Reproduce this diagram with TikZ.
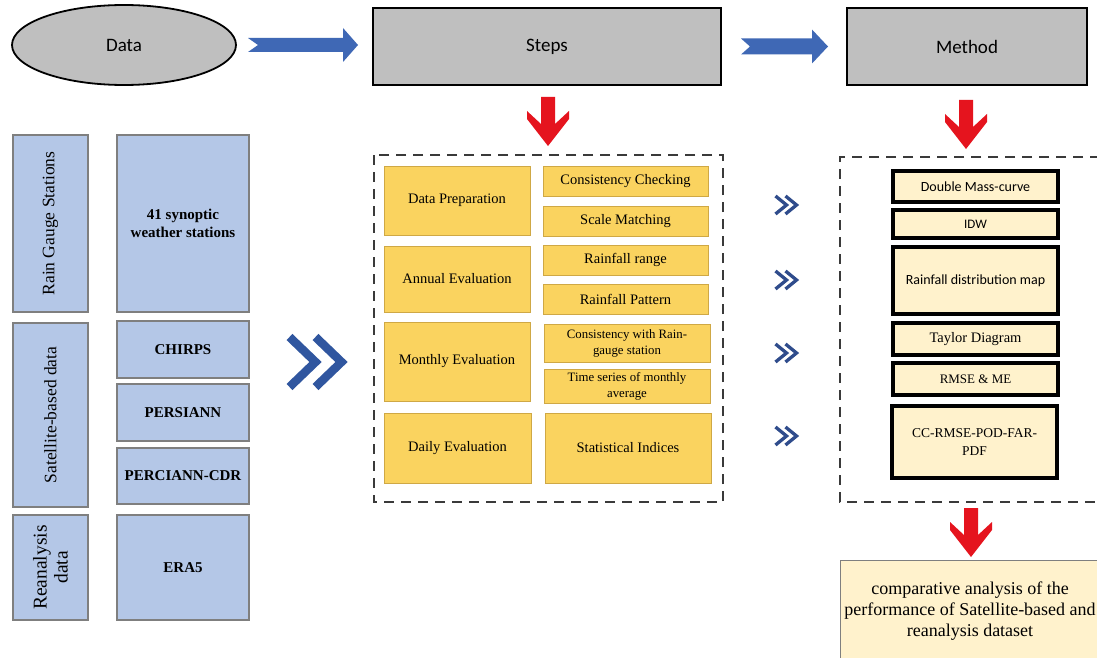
\documentclass[tikz,border=0pt]{standalone}
\usepackage{fontspec}
\setmainfont{Liberation Serif}
\newfontfamily\calfont{Carlito}
\usetikzlibrary{shapes.geometric,calc}
\definecolor{hgray}{HTML}{BFBFBF}
\definecolor{arrblue}{HTML}{3F68B5}
\definecolor{arrred}{HTML}{E5141E}
\definecolor{lblue}{HTML}{B4C7E7}
\definecolor{lbord}{HTML}{7F7F7F}
\definecolor{ygold}{HTML}{FAD35F}
\definecolor{ybord}{HTML}{CFA845}
\definecolor{cream}{HTML}{FFF2CC}
\definecolor{chevA}{HTML}{30569F}
\definecolor{chevB}{HTML}{2F4C8C}
\definecolor{dashc}{HTML}{3A3A3A}
\tikzset{
  hdr/.style={draw=black, line width=1.8pt, fill=hgray, inner sep=0pt, outer sep=0pt,
    font=\calfont\fontsize{19}{22}\selectfont},
  bluebox/.style={draw=lbord, line width=1.2pt, fill=lblue, inner sep=0pt, outer sep=0pt, align=center},
  bluelbl/.style={bluebox, rotate=90, font=\fontsize{17.5}{21}\selectfont},
  bluedat/.style={bluebox, font=\bfseries\fontsize{15}{17.5}\selectfont},
  ybox/.style={draw=ybord, line width=0.8pt, fill=ygold, inner sep=0pt, outer sep=0pt, align=center,
    font=\fontsize{14.5}{16}\selectfont},
  mbox/.style={draw=black, line width=3.3pt, fill=cream, inner sep=0pt, outer sep=0pt, align=center,
    font=\fontsize{14.5}{18}\selectfont},
  dashbox/.style={draw=dashc, line width=2pt, dash pattern=on 10pt off 7pt},
  redarr/.pic={\fill[arrred] (-7,0) -- (7,0) -- (7,27) -- (21,14) -- (21,22) -- (0,49) -- (-21,22) -- (-21,14) -- (-7,27) -- cycle;},
  bigchev/.pic={\draw[chevA, line width=8.5pt, line join=miter] (-13,-25) -- (13,0) -- (-13,25);},
  smallchev/.pic={\draw[chevB, line width=3.3pt, line join=miter] (-5.5,-9) -- (5.5,0) -- (-5.5,9);}
}
\begin{document}
\begin{tikzpicture}[x=1pt, y=-1pt]
\useasboundingbox (0,0) rectangle (1097,658);
\fill[white] (0,0) rectangle (1097,658);

% header row
\node[ellipse, draw=black, line width=1.8pt, fill=hgray, minimum width=224pt, minimum height=80pt,
  inner sep=0pt, outer sep=0pt, font=\calfont\fontsize{19}{22}\selectfont] (data) at (124,45) {Data};
\node[hdr, minimum width=348pt, minimum height=77pt] (steps) at (547,46.5) {Steps};
\node[hdr, minimum width=240pt, minimum height=77pt] (method) at (967,46.5) {Method};

% blue arrows
\fill[arrblue] let \p1=($(data.east)+(12,0)$), \p2=($(steps.west)+(-15,0)$) in
  (\x1,\y1+7pt) -- (\x2-15pt,\y1+7pt) -- (\x2-15pt,\y1+17pt) -- (\x2,\y1) -- (\x2-15pt,\y1-17pt)
  -- (\x2-15pt,\y1-7pt) -- (\x1,\y1-7pt) -- (\x1+10pt,\y1) -- cycle;
\fill[arrblue] let \p1=($(steps.east)+(20,0)$), \p2=($(method.west)+(-19,0)$) in
  (\x1,\y1+8pt) -- (\x2-16pt,\y1+8pt) -- (\x2-16pt,\y1+17pt) -- (\x2,\y1) -- (\x2-16pt,\y1-17pt)
  -- (\x2-16pt,\y1-8pt) -- (\x1,\y1-8pt) -- (\x1+9pt,\y1) -- cycle;

% red arrows
\pic at ($(steps.south)+(1,12)$) {redarr};
\pic at ($(method.south)+(-1,15)$) {redarr};

% left column
\node[bluelbl, minimum width=177pt, minimum height=75pt] (rgs) at (50.5,223.5) {Rain Gauge Stations};
\node[bluedat, minimum width=132pt, minimum height=177pt] (syn) at (183,223.5) {41 synoptic\\weather stations};
\node[bluelbl, minimum width=184pt, minimum height=75pt] (sat) at (50.5,415) {Satellite-based data};
\node[bluedat, minimum width=132pt, minimum height=57pt] (chirps) at (183,349.5) {CHIRPS};
\node[bluedat, minimum width=132pt, minimum height=57pt] (persiann) at (183,412.5) {PERSIANN};
\node[bluedat, minimum width=132pt, minimum height=56pt] (pcdr) at (183,476) {PERCIANN-CDR};
\node[bluelbl, minimum width=105pt, minimum height=75pt, font=\fontsize{19.5}{21}\selectfont] (rea) at (50.5,567.5) {Reanalysis\\data};
\node[bluedat, minimum width=132pt, minimum height=105pt] (era) at (183,567.5) {ERA5};

% big chevrons
\pic at (302.5,362) {bigchev};
\pic at (328.5,362) {bigchev};

% steps dashed box
\draw[dashbox] (374,155) rectangle (723,502);
\node[ybox, minimum width=146pt, minimum height=69pt] (dp) at (457,200.5) {Data Preparation};
\node[ybox, minimum width=165pt, minimum height=30pt] (cc) at (625.5,181) {Consistency Checking};
\node[ybox, minimum width=165pt, minimum height=30pt] (sm) at (625.5,221) {Scale Matching};
\node[ybox, minimum width=146pt, minimum height=66pt] (ae) at (457,279) {Annual Evaluation};
\node[ybox, minimum width=165pt, minimum height=30pt] (rr) at (625.5,260) {Rainfall range};
\node[ybox, minimum width=165pt, minimum height=30pt] (rp) at (625.5,299) {Rainfall Pattern};
\node[ybox, minimum width=146pt, minimum height=79pt] (me) at (457,361.5) {Monthly Evaluation};
\node[ybox, minimum width=166pt, minimum height=38pt, font=\fontsize{12.8}{16}\selectfont] (cwr) at (627,343) {Consistency with Rain-\\gauge station};
\node[ybox, minimum width=166pt, minimum height=34pt, font=\fontsize{12.8}{16}\selectfont] (ts) at (627,386) {Time series of monthly\\average};
\node[ybox, minimum width=147pt, minimum height=70pt] (de) at (457.5,448) {Daily Evaluation};
\node[ybox, minimum width=166pt, minimum height=70pt] (si) at (628,448) {Statistical Indices};

% small chevrons
\foreach \yy in {205,280,353,436} {
  \pic at (781,\yy) {smallchev};
  \pic at (791,\yy) {smallchev};
}

% method dashed box (open to the right)
\draw[dashbox] (1100,157) -- (840,157) -- (840,502) -- (1100,502);
\node[mbox, minimum width=165pt, minimum height=31pt, font=\calfont\fontsize{14}{17}\selectfont] (dmc) at (975.5,186.5) {Double Mass-curve};
\node[mbox, minimum width=165pt, minimum height=28pt, font=\calfont\fontsize{13}{16}\selectfont] (idw) at (975.5,224) {IDW};
\node[mbox, minimum width=165pt, minimum height=67pt, font=\calfont\fontsize{14}{17}\selectfont] (rdm) at (975.5,280.5) {Rainfall distribution map};
\node[mbox, minimum width=165pt, minimum height=32pt] (td) at (975.5,339) {Taylor Diagram};
\node[mbox, minimum width=165pt, minimum height=32pt, font=\fontsize{13}{16}\selectfont] (rm) at (975.5,379) {RMSE \& ME};
\node[mbox, minimum width=165pt, minimum height=72pt, font=\fontsize{13.5}{18}\selectfont] (ccr) at (974.5,442) {CC-RMSE-POD-FAR-\\PDF};

% final
\pic at (971,508) {redarr};
\node[draw=lbord, line width=1pt, fill=cream, minimum width=260pt, minimum height=102pt, inner sep=0pt,
  align=center, font=\fontsize{18}{21}\selectfont] (final) at (970,611)
  {comparative analysis of the\\performance of Satellite-based and\\reanalysis dataset};
\end{tikzpicture}
\end{document}
